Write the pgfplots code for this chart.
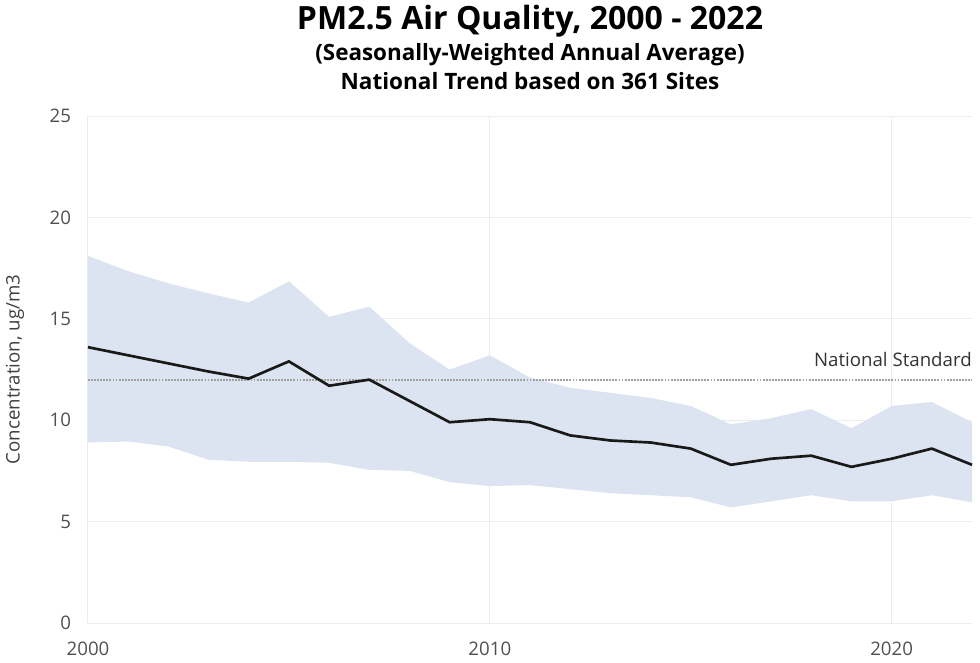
\documentclass[border=0pt]{standalone}
\usepackage{fontspec}
\setmainfont{Open Sans}
\usepackage{graphicx}
\usepackage{pgfplots}
\pgfplotsset{compat=1.18}
\usepgfplotslibrary{fillbetween}
\usepackage{pgfplotstable}

\definecolor{band}{RGB}{221,228,241}
\definecolor{tickgray}{RGB}{80,80,80}
\definecolor{gridgray}{RGB}{236,236,236}
\definecolor{stdgray}{RGB}{160,160,160}

\pgfplotstableread{
year lo mean hi
2000 8.9 13.6 18.1
2001 8.95 13.2 17.35
2002 8.7 12.8 16.75
2003 8.05 12.4 16.25
2004 7.95 12.05 15.8
2005 7.95 12.9 16.85
2006 7.9 11.7 15.1
2007 7.55 12.0 15.6
2008 7.5 10.95 13.8
2009 6.95 9.9 12.5
2010 6.75 10.05 13.2
2011 6.8 9.9 12.1
2012 6.6 9.25 11.6
2013 6.4 9.0 11.35
2014 6.3 8.9 11.1
2015 6.2 8.6 10.7
2016 5.7 7.8 9.8
2017 6.0 8.1 10.1
2018 6.3 8.25 10.55
2019 6.0 7.7 9.6
2020 6.0 8.1 10.7
2021 6.3 8.6 10.9
2022 5.95 7.8 9.9
}\datatable

\begin{document}
\begin{tikzpicture}
\begin{axis}[
  name=ax, at={(0,0)}, anchor=south west,
  scale only axis, width=663pt, height=380.25pt,
  xmin=2000, xmax=2022, ymin=0, ymax=25,
  axis line style={draw=none},
  tick style={draw=none},
  grid=major,
  major grid style={draw=gridgray, line width=0.75pt},
  xtick={2000,2010,2020}, xticklabels={2000,2010,2020},
  ytick={0,5,10,15,20,25}, yticklabels={0,5,10,15,20,25},
  ticklabel style={font=\fontsize{14}{16}\selectfont, text=tickgray},
  xticklabel style={inner sep=0pt, anchor=north, yshift=-14pt},
  yticklabel style={inner sep=0pt, anchor=east, xshift=-12.5pt},
  clip=false,
]
\addplot[name path=hi, draw=none, forget plot] table[x=year, y=hi]{\datatable};
\addplot[name path=lo, draw=none, forget plot] table[x=year, y=lo]{\datatable};
\addplot[fill=band, draw=none, forget plot] fill between[of=hi and lo];
\addplot[stdgray, line width=1.6pt, dash pattern=on 1.4pt off 0.9pt, forget plot] coordinates {(2000,12) (2022,12)};
\addplot[black!90, line width=2pt, line join=round, forget plot] table[x=year, y=mean]{\datatable};
\node[anchor=base east, inner sep=0pt, text=black!80, font=\fontsize{14}{16}\selectfont] at (axis cs:2022,12) [yshift=9.75pt] {National Standard};
\end{axis}
\node[anchor=base, inner sep=0pt, yshift=65pt] at (ax.north) {\resizebox{349.5pt}{!}{\bfseries PM2.5 Air Quality, 2000 - 2022}};
\node[anchor=base, inner sep=0pt, yshift=41.5pt] at (ax.north) {\resizebox{322pt}{!}{\bfseries (Seasonally-Weighted Annual Average)}};
\node[anchor=base, inner sep=0pt, yshift=20.25pt] at (ax.north) {\resizebox{284pt}{!}{\bfseries National Trend based on 361 Sites}};
\node[rotate=90, anchor=center, inner sep=0pt, text=black!75, font=\fontsize{14}{16}\selectfont] at ([xshift=-54.75pt]ax.west) {Concentration, ug/m3};
\pgfresetboundingbox
\path (ax.south west) ++(-66pt,-29.25pt) rectangle ++(735pt,496.5pt);
\end{tikzpicture}
\end{document}
